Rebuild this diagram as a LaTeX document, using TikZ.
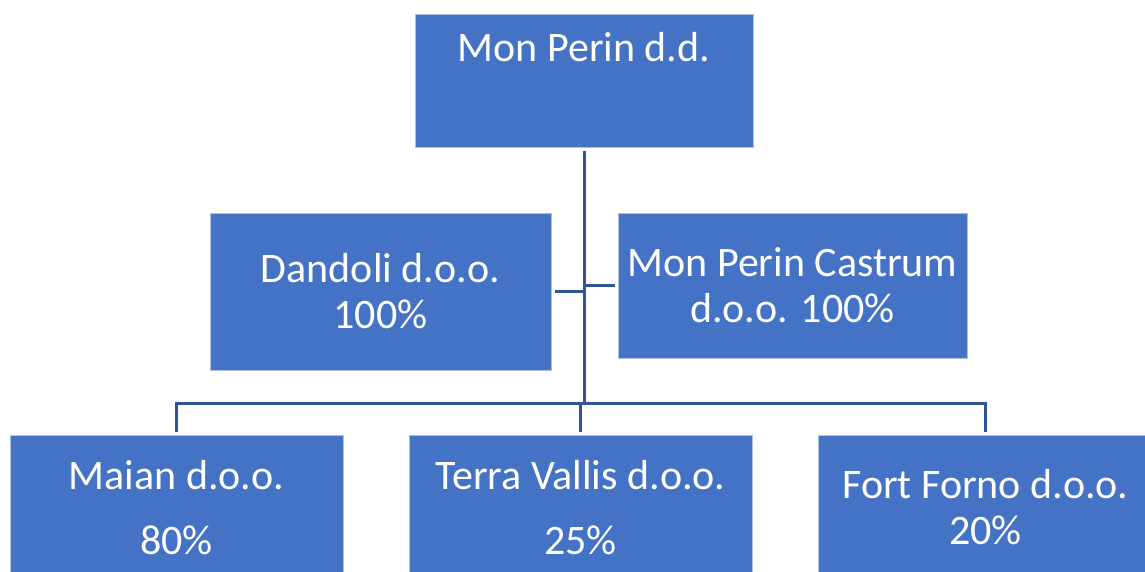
\documentclass[tikz,border=0pt]{standalone}
\usepackage{fontspec}
\setmainfont{Carlito}
\definecolor{boxblue}{HTML}{4472C4}
\definecolor{lineblue}{HTML}{2F5597}

\begin{document}
\begin{tikzpicture}[x=1pt,y=-1pt]
		\useasboundingbox (0,0) rectangle (1145,572);
		\clip (0,0) rectangle (1145,572);
		\begin{scope}[every node/.style={rectangle, fill=boxblue, draw=boxblue!45, line width=1pt, text=white, align=center, inner sep=0pt, font=\fontsize{42}{46}\selectfont}]
			\node[minimum width=338, minimum height=133, text height=30pt, text depth=69pt] (MP) at (584,81.5) {Mon Perin d.d.};
			\node[minimum width=341, minimum height=157] (D) at (380.5,291.5) {Dandoli d.o.o.\\100\%};
			\node[minimum width=349, minimum height=145] (C) at (792.5,285.5) {Mon Perin Castrum\\d.o.o. 100\%};
			\node[minimum width=333, minimum height=145] (M) at (176.5,507.5) {Maian d.o.o.\\[19pt]80\%};
			\node[minimum width=343, minimum height=145] (T) at (580.5,507.5) {Terra Vallis d.o.o.\\[19pt]25\%};
			\node[minimum width=335, minimum height=145] (F) at (985.5,507.5) {Fort Forno d.o.o.\\20\%};
		\end{scope}
		\coordinate (bus) at (584,403);
		\begin{scope}[every path/.style={draw=lineblue, line width=3pt}]
			\path [shorten <=3pt] (MP.south) -- (MP.south |- bus);
			\path [shorten <=3pt] (D.east) -- (D.east -| MP.south);
			\path [shorten <=3pt] (C.west) -- (C.west -| MP.south);
			\path [shorten <=3pt, shorten >=3pt] (M.north) -- (M.north |- bus) -- (F.north |- bus) -- (F.north);
			\path [shorten >=3pt] (T.north |- bus) -- (T.north);
		\end{scope}
	\end{tikzpicture}
\end{document}
